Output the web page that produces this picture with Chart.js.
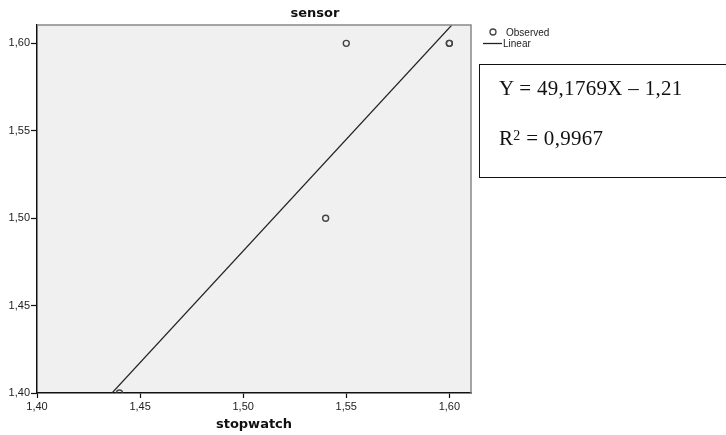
<!DOCTYPE html>
<html>
<head>
<meta charset="utf-8">
<script src="https://cdn.jsdelivr.net/npm/chart.js@4.4.1/dist/chart.umd.min.js"></script>
<style>
  body { margin: 0; background: #fff; }
  #wrap { position: relative; width: 726px; height: 435px; }
  #eqbox {
    position: absolute; left: 479px; top: 64px; width: 260px; height: 112px;
    border: 1.5px solid #111; box-sizing: content-box;
    font-family: "Liberation Serif", serif; font-size: 21px; color: #111;
    letter-spacing: 0.3px;
  }
  #eqbox div { position: absolute; left: 19px; white-space: nowrap; }
</style>
</head>
<body>
<div id="wrap">
  <canvas id="chart" width="726" height="435"></canvas>
  <div id="eqbox">
    <div style="top:11px">Y = 49,1769X – 1,21</div>
    <div style="top:61px">R<span style="font-size:14px;vertical-align:5px">2</span> = 0,9967</div>
  </div>
</div>
<script>
// observed values (stopwatch vs sensor)
const stopwatch = [1.44, 1.54, 1.55, 1.60, 1.60];
const sensor = [1.40, 1.50, 1.60, 1.60, 1.60];
// fitted line, ends
const fitX = [1.4364, 1.6012];
const fitY = [1.40, 1.6105];
const xTicks = [1.40, 1.45, 1.50, 1.55, 1.60];
const yTicks = [1.40, 1.45, 1.50, 1.55, 1.60];

const fmt = v => v.toFixed(2).replace('.', ',');

const decor = {
  id: 'decor',
  beforeDraw(chart) {
    const { ctx, chartArea: a } = chart;
    ctx.save();
    ctx.fillStyle = '#f0f0f0';
    ctx.fillRect(a.left, a.top, a.right - a.left, a.bottom - a.top);
    ctx.restore();
  },
  afterDraw(chart) {
    const { ctx, chartArea: a } = chart;
    ctx.save();
    // top and right frame
    ctx.strokeStyle = '#888';
    ctx.lineWidth = 1.5;
    ctx.beginPath();
    ctx.moveTo(a.left, a.top);
    ctx.lineTo(a.right, a.top);
    ctx.lineTo(a.right, a.bottom);
    ctx.stroke();

    ctx.fillStyle = '#111';
    ctx.textAlign = 'center';
    ctx.textBaseline = 'middle';
    ctx.font = 'bold 13px "DejaVu Sans", Verdana, sans-serif';
    ctx.fillText('sensor', 315, 14);
    ctx.fillText('stopwatch', (a.left + a.right) / 2, 425);

    // legend
    ctx.strokeStyle = '#444';
    ctx.lineWidth = 1.3;
    ctx.beginPath();
    ctx.arc(493, 32, 3, 0, Math.PI * 2);
    ctx.stroke();
    ctx.strokeStyle = '#222';
    ctx.beginPath();
    ctx.moveTo(483, 43.5);
    ctx.lineTo(502, 43.5);
    ctx.stroke();
    ctx.textAlign = 'left';
    ctx.font = '10px "Liberation Sans", Arial, sans-serif';
    ctx.fillStyle = '#222';
    ctx.fillText('Observed', 506, 33);
    ctx.fillText('Linear', 503, 44);
    ctx.restore();
  }
};

new Chart(document.getElementById('chart'), {
  type: 'scatter',
  data: {
    datasets: [
      {
        label: 'Observed',
        data: stopwatch.map((x, i) => ({ x: x, y: sensor[i] })),
        pointStyle: 'circle',
        pointRadius: 3,
        borderColor: '#444',
        borderWidth: 1.4,
        backgroundColor: 'rgba(0,0,0,0)',
        clip: 0
      },
      {
        label: 'Linear',
        data: fitX.map((x, i) => ({ x: x, y: fitY[i] })),
        showLine: true,
        borderColor: '#222',
        borderWidth: 1.2,
        pointRadius: 0,
        clip: 0
      }
    ]
  },
  options: {
    responsive: false,
    animation: false,
    layout: { padding: { top: 25, right: 255, left: 0, bottom: 0 } },
    plugins: { legend: { display: false }, tooltip: { enabled: false } },
    scales: {
      x: {
        type: 'linear',
        min: 1.40,
        max: 1.6105,
        afterFit: s => { s.height = 42; },
        afterBuildTicks: s => { s.ticks = xTicks.map(v => ({ value: v })); },
        grid: { drawOnChartArea: false, drawTicks: true, tickLength: 5, tickColor: '#111', tickWidth: 1.2 },
        border: { display: true, color: '#111', width: 1.5 },
        ticks: {
          callback: v => fmt(v),
          color: '#222',
          padding: 2,
          maxRotation: 0,
          font: { family: '"Liberation Sans", Arial, sans-serif', size: 11 }
        }
      },
      y: {
        type: 'linear',
        min: 1.40,
        max: 1.6105,
        afterFit: s => { s.width = 37; },
        afterBuildTicks: s => { s.ticks = yTicks.map(v => ({ value: v })); },
        grid: { drawOnChartArea: false, drawTicks: true, tickLength: 6, tickColor: '#111', tickWidth: 1.2 },
        border: { display: true, color: '#111', width: 1.5 },
        ticks: {
          callback: v => fmt(v),
          color: '#222',
          padding: 1,
          font: { family: '"Liberation Sans", Arial, sans-serif', size: 11 }
        }
      }
    }
  },
  plugins: [decor]
});
</script>
</body>
</html>
